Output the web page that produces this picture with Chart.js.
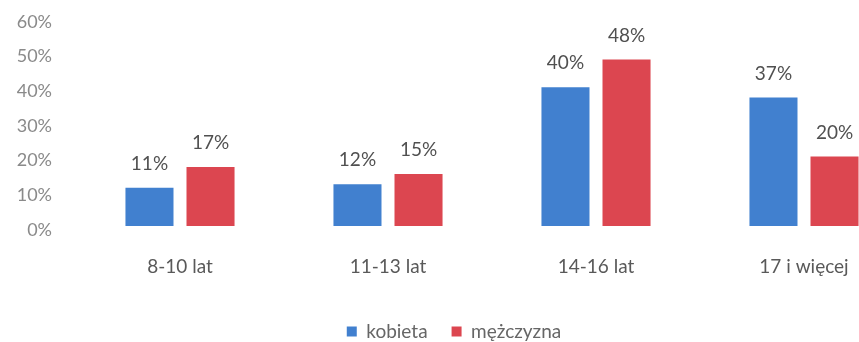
<!DOCTYPE html>
<html>
<head>
<meta charset="utf-8">
<script src="https://cdn.jsdelivr.net/npm/chart.js@4"></script>
<style>
  html, body { margin: 0; padding: 0; background: #fff; overflow: hidden; }
  #wrap { position: relative; width: 928px; height: 359px; margin-top: -17px; }
</style>
</head>
<body>
<div id="wrap"><canvas id="chart"></canvas></div>
<script>
const CATEGORIES = ['8-10 lat', '11-13 lat', '14-16 lat', '17 i więcej'];
const KOBIETA    = [11, 12, 40, 37];
const MEZCZYZNA  = [17, 15, 48, 20];
const Y_TICKS    = [0, 10, 20, 30, 40, 50, 60];

const FONT_FAMILY = "Lato, 'Open Sans', sans-serif";
const BLUE = '#4180cf';
const RED  = '#dc4650';

// Percentage labels above each bar
const valueLabels = {
  id: 'valueLabels',
  afterDatasetsDraw(chart) {
    const ctx = chart.ctx;
    ctx.save();
    ctx.font = '19px ' + FONT_FAMILY;
    ctx.fillStyle = '#505050';
    ctx.textAlign = 'center';
    ctx.textBaseline = 'middle';
    chart.data.datasets.forEach((ds, i) => {
      chart.getDatasetMeta(i).data.forEach((bar, j) => {
        ctx.fillText(ds.data[j] + '%', bar.x, bar.y - 24);
      });
    });
    ctx.restore();
  }
};

new Chart(document.getElementById('chart'), {
  type: 'bar',
  data: {
    labels: CATEGORIES,
    datasets: [
      { label: 'kobieta',   data: KOBIETA,   backgroundColor: BLUE },
      { label: 'mężczyzna', data: MEZCZYZNA, backgroundColor: RED }
    ]
  },
  options: {
    responsive: true,
    maintainAspectRatio: false,
    animation: false,
    datasets: { bar: { categoryPercentage: 0.587, barPercentage: 0.787 } },
    layout: { padding: { top: 0, left: 0, right: 20, bottom: -9 } },
    plugins: {
      legend: {
        position: 'bottom',
        labels: {
          color: '#666',
          font: { family: FONT_FAMILY, size: 19 },
          boxWidth: 10,
          boxHeight: 10,
          padding: 24
        }
      },
      tooltip: { enabled: false }
    },
    scales: {
      x: {
        grid: { display: false },
        border: { display: false },
        ticks: { color: '#595959', font: { family: FONT_FAMILY, size: 19 }, padding: 21 },
        afterFit(scale) { scale.height = 72; }
      },
      y: {
        min: 0,
        max: 60,
        afterBuildTicks(scale) { scale.ticks = Y_TICKS.map(v => ({ value: v })); },
        afterFit(scale) { scale.width = 76; },
        grid: { display: false, drawTicks: false },
        border: { display: false },
        ticks: {
          color: '#8a8a8a',
          font: { family: FONT_FAMILY, size: 18 },
          padding: 24,
          labelOffset: 4,
          callback: v => v + '%'
        }
      }
    }
  },
  plugins: [valueLabels]
});
</script>
</body>
</html>
